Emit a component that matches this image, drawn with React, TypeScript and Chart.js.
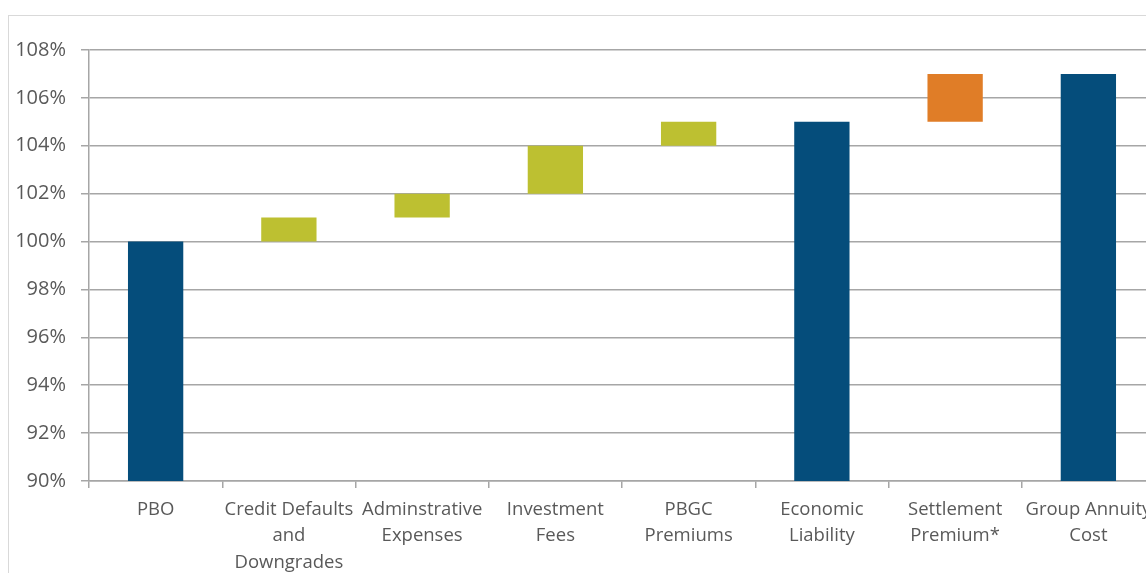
import React, { useEffect, useRef } from 'react';
import { Chart, registerables } from 'chart.js';
Chart.register(...registerables);

const categories: string[][] = [
  ['PBO'],
  ['Credit Defaults', 'and', 'Downgrades'],
  ['Adminstrative', 'Expenses'],
  ['Investment', 'Fees'],
  ['PBGC', 'Premiums'],
  ['Economic', 'Liability'],
  ['Settlement', 'Premium*'],
  ['Group Annuity', 'Cost'],
];
const barStarts = [90, 100, 101, 102, 104, 90, 105, 90];
const barEnds = [100, 101, 102, 104, 105, 105, 107, 107];
const barKinds = ['total', 'step', 'step', 'step', 'step', 'total', 'premium', 'total'];
const yMin = 90;
const yMax = 108;
const yStep = 2;

const kindColors: Record<string, string> = {
  total: '#054D7B',
  step: '#BDC031',
  premium: '#E07D27',
};

export default function App() {
  const ref = useRef<HTMLCanvasElement>(null);
  useEffect(() => {
    if (!ref.current) return;
    const chart = new Chart(ref.current, {
      type: 'bar',
      data: {
        labels: categories,
        datasets: [
          {
            data: barStarts.map((s, i) => [s, barEnds[i]]),
            backgroundColor: barKinds.map((k) => kindColors[k]),
            borderWidth: 0,
            barPercentage: 0.415,
            categoryPercentage: 1,
          },
        ],
      },
      options: {
        animation: false,
        responsive: false,
        layout: { padding: { left: 0, top: 50, right: 45, bottom: 0 } },
        plugins: { legend: { display: false }, tooltip: { enabled: false } },
        scales: {
          x: {
            afterFit: (s: any) => { s.height = 139; },
            grid: {
              offset: true,
              drawOnChartArea: false,
              drawTicks: true,
              tickLength: 7,
              color: '#a6a6a6',
              lineWidth: 1.5,
            },
            border: { color: '#a6a6a6', width: 1.5 },
            ticks: {
              color: '#595959',
              padding: 8,
              maxRotation: 0,
              autoSkip: false,
              font: { family: '"Open Sans"', size: 18.5, lineHeight: 1.44 },
            },
          },
          y: {
            min: yMin,
            max: yMax,
            afterFit: (s: any) => { s.width = 89; },
            grid: { color: '#a6a6a6', lineWidth: 1.5, tickLength: 8 },
            border: { color: '#a6a6a6', width: 1.5 },
            ticks: {
              stepSize: yStep,
              color: '#595959',
              padding: 15,
              font: { family: '"Open Sans"', size: 20 },
              callback: (v: any) => v + '%',
            },
          },
        },
      },
    });
    return () => chart.destroy();
  }, []);
  return (
    <div style={{ position: 'fixed', left: 0, top: 0, width: 1146, height: 573, overflow: 'hidden', background: '#fff' }}>
      <div style={{ position: 'absolute', left: 8, top: 15, width: 1300, height: 700, border: '1px solid #d9d9d9', boxSizing: 'border-box' }} />
      <canvas ref={ref} width={1200} height={620} style={{ position: 'absolute', left: 0, top: 0 }} />
    </div>
  );
}
